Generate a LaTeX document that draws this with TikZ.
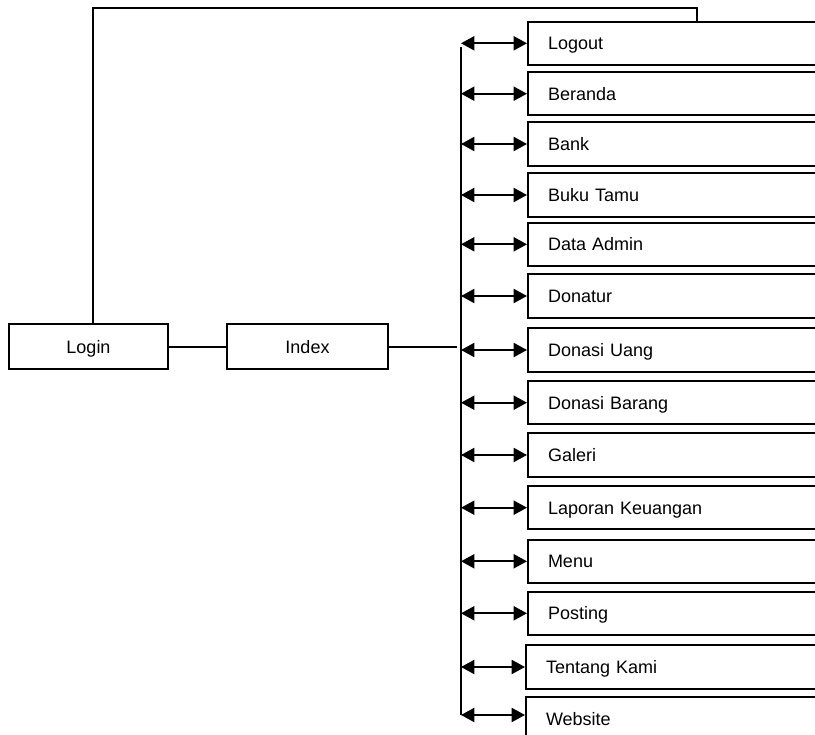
\documentclass[tikz,border=0pt]{standalone}
\usepackage{fontspec}
\setmainfont{Liberation Sans}
\usetikzlibrary{arrows.meta}
\begin{document}
\begin{tikzpicture}[x=0.75pt,y=-0.75pt,line width=1.5pt,
	every node/.style={font=\fontsize{13.5}{16}\selectfont, text height=10pt, text depth=0pt},
	pagebox/.style={draw, minimum height=33.75pt},
	menubox/.style={draw, anchor=west, minimum height=32.6pt, text width=210pt, inner xsep=15pt, align=left},
	link/.style={{Triangle[length=10pt,width=10.5pt]}-{Triangle[length=10pt,width=10.5pt]}}]
	\useasboundingbox (0,0) rectangle (815,735);
	\clip (0,0) rectangle (815,735);
	% halaman awal
	\node[pagebox, minimum width=119.25pt] (login) at (88.5,346.5) {Login};
	\node[pagebox, minimum width=120.75pt] (index) at (307.5,346.5) {Index};
	% menu
	\node[menubox] (logout) at (527,43.3) {Logout};
	\node[menubox] (beranda) at (527,93.7) {Beranda};
	\node[menubox] (bank) at (527,144) {Bank};
	\node[menubox] (bukutamu) at (527,195) {Buku Tamu};
	\node[menubox] (dataadmin) at (527,244.3) {Data Admin};
	\node[menubox] (donatur) at (527,296) {Donatur};
	\node[menubox] (donasiuang) at (527,350) {Donasi Uang};
	\node[menubox] (donasibarang) at (527,402.7) {Donasi Barang};
	\node[menubox] (galeri) at (527,455) {Galeri};
	\node[menubox] (laporan) at (527,507.7) {Laporan Keuangan};
	\node[menubox] (menu) at (527,561.3) {Menu};
	\node[menubox] (posting) at (527,613.3) {Posting};
	\node[menubox] (tentang) at (525,667) {Tentang Kami};
	\node[menubox] (website) at (525,718.5) {Website};
	% jalur
	\coordinate (busTop) at (461,47);
	\coordinate (busBot) at (461,715);
	\coordinate (busIn) at (457,346.5);
	\coordinate (topL) at (93,8.3);
	\coordinate (topR) at (697,8.3);
	\draw (login) -- (index);
	\draw (index) -- (busIn);
	\draw (busTop) -- (busBot);
	\draw (login.north -| topL) -- (topL) -- (topR) -- (topR |- logout.north);
	\draw[link] (busTop |- logout.west) -- (logout.west);
	\draw[link] (busTop |- beranda.west) -- (beranda.west);
	\draw[link] (busTop |- bank.west) -- (bank.west);
	\draw[link] (busTop |- bukutamu.west) -- (bukutamu.west);
	\draw[link] (busTop |- dataadmin.west) -- (dataadmin.west);
	\draw[link] (busTop |- donatur.west) -- (donatur.west);
	\draw[link] (busTop |- donasiuang.west) -- (donasiuang.west);
	\draw[link] (busTop |- donasibarang.west) -- (donasibarang.west);
	\draw[link] (busTop |- galeri.west) -- (galeri.west);
	\draw[link] (busTop |- laporan.west) -- (laporan.west);
	\draw[link] (busTop |- menu.west) -- (menu.west);
	\draw[link] (busTop |- posting.west) -- (posting.west);
	\draw[link] (busTop |- tentang.west) -- (tentang.west);
	\draw[link] (busBot) -- (busBot -| website.west);
\end{tikzpicture}
\end{document}
